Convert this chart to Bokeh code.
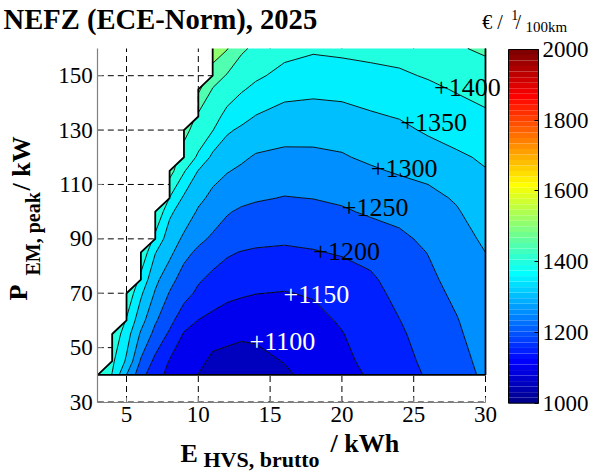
import numpy as np
from bokeh.plotting import figure
from bokeh.plotting.contour import contour_data
from bokeh.models import Label, Range1d, FixedTicker, LinearAxis
from bokeh.embed import file_html
from bokeh.resources import INLINE

N = None

# Grid: gross battery energy (kWh) and peak e-machine power (kW)
e_hvs = [3, 4, 5, 6, 7, 8, 9, 10, 11, 12, 13, 14, 16, 18, 20, 22, 24, 26, 28, 30]
p_em = [40, 45, 55, 60, 70, 75, 85, 90, 100, 105, 115, 120, 130, 135, 145, 150, 160]

# Cost in EUR per 1/100km, one list per battery size (rows follow p_em);
# None where the power exceeds what the battery can deliver
cost_e03 = [1445, N, N, N, N, N, N, N, N, N, N, N, N, N, N, N, N]
cost_e04 = [1398, 1410, 1440, N, N, N, N, N, N, N, N, N, N, N, N, N, N]
cost_e05 = [1300, 1342, 1372, 1395, 1440, N, N, N, N, N, N, N, N, N, N, N, N]
cost_e06 = [1217, 1244, 1293, 1319, 1358, 1385, 1440, N, N, N, N, N, N, N, N, N, N]
cost_e07 = [1167, 1188, 1235, 1256, 1295, 1313, 1352, 1385, 1450, N, N, N, N, N, N, N, N]
cost_e08 = [1138, 1147, 1192, 1215, 1247, 1267, 1313, 1325, 1360, 1398, 1470, N, N, N, N, N, N]
cost_e09 = [1118, 1128, 1146, 1170, 1218, 1228, 1265, 1292, 1325, 1342, 1405, 1422, 1470, N, N, N, N]
cost_e10 = [1099, 1110, 1132, 1149, 1190, 1206, 1240, 1262, 1295, 1310, 1348, 1395, 1420, 1440, 1510, N, N]
cost_e11 = [1090, 1092, 1114, 1135, 1178, 1188, 1222, 1242, 1276, 1290, 1315, 1338, 1402, 1420, 1447, 1475, 1530]
cost_e12 = [1082, 1088, 1110, 1125, 1163, 1180, 1205, 1228, 1254, 1270, 1303, 1320, 1357, 1385, 1426, 1446, 1503]
cost_e13 = [1078, 1084, 1106, 1120, 1156, 1172, 1198, 1218, 1243, 1262, 1292, 1308, 1342, 1365, 1405, 1423, 1458]
cost_e14 = [1078, 1086, 1108, 1120, 1151, 1165, 1194, 1212, 1238, 1255, 1282, 1295, 1330, 1348, 1389, 1408, 1440]
cost_e16 = [1092, 1102, 1120, 1126, 1148, 1162, 1192, 1207, 1233, 1248, 1275, 1290, 1316, 1333, 1365, 1386, 1415]
cost_e18 = [1116, 1121, 1130, 1137, 1154, 1165, 1197, 1210, 1236, 1251, 1275, 1291, 1315, 1328, 1362, 1378, 1406]
cost_e20 = [1135, 1140, 1148, 1155, 1170, 1178, 1204, 1218, 1244, 1258, 1283, 1296, 1318, 1331, 1366, 1381, 1410]
cost_e22 = [1155, 1161, 1172, 1178, 1186, 1193, 1214, 1224, 1257, 1264, 1294, 1308, 1328, 1344, 1373, 1389, 1412]
cost_e24 = [1180, 1185, 1193, 1199, 1212, 1219, 1234, 1242, 1262, 1274, 1305, 1316, 1338, 1353, 1381, 1393, 1418]
cost_e26 = [1205, 1210, 1220, 1225, 1237, 1242, 1251, 1258, 1276, 1287, 1313, 1325, 1357, 1370, 1390, 1404, 1432]
cost_e28 = [1232, 1236, 1244, 1248, 1258, 1263, 1275, 1281, 1296, 1305, 1330, 1343, 1368, 1378, 1404, 1418, 1445]
cost_e30 = [1258, 1262, 1270, 1274, 1285, 1289, 1300, 1308, 1325, 1333, 1348, 1356, 1372, 1392, 1417, 1430, 1458]

levels = [1050, 1100, 1150, 1200, 1250, 1300, 1350, 1400, 1450, 1500, 1550]

# Inline contour labels: level and the point on its line where it sits
label_levels = [1100, 1150, 1200, 1250, 1300, 1350, 1400]
label_e = [14.05, 16.42, 18.5, 20.48, 22.5, 24.55, 26.9]
label_p = [52.2, 69.5, 85.4, 101.6, 115.7, 132.9, 145.7]

e_ticks = [5, 10, 15, 20, 25, 30]
p_ticks = [30, 50, 70, 90, 110, 130, 150]
colorbar_ticks = [1000, 1200, 1400, 1600, 1800, 2000]
e_lim = (3, 30)
p_lim = (30, 160)
c_low, c_high = 1000, 2000

columns = [cost_e03, cost_e04, cost_e05, cost_e06, cost_e07, cost_e08, cost_e09,
           cost_e10, cost_e11, cost_e12, cost_e13, cost_e14, cost_e16, cost_e18,
           cost_e20, cost_e22, cost_e24, cost_e26, cost_e28, cost_e30]
z = np.array(columns, dtype=float).T  # shape (len(p_em), len(e_hvs))


def jet(m=64):
    """MATLAB-style jet colormap as a list of hex colours."""
    n = int(np.ceil(m / 4))
    u = np.concatenate([np.arange(1, n + 1) / n, np.ones(n - 1), np.arange(n, 0, -1) / n])
    g = int(np.ceil(n / 2)) - (1 if m % 4 == 1 else 0) + np.arange(1, len(u) + 1)
    cmap = np.zeros((m, 3))
    for idx, ch in ((g + n, 0), (g, 1), (g - n, 2)):
        ok = (idx >= 1) & (idx <= m)
        cmap[idx[ok] - 1, ch] = u[ok]
    return ["#%02x%02x%02x" % tuple(int(round(v * 255)) for v in c) for c in cmap]


JET = jet(64)


def jet_color(v):
    i = int(np.floor((v - c_low) / (c_high - c_low) * len(JET)))
    return JET[min(max(i, 0), len(JET) - 1)]


band_colors = [jet_color(v) for v in levels[:-1]]

# Page layout in pixels (from the top-left corner of the page)
W, H = 590, 473
PLOT_L, PLOT_R, PLOT_T, PLOT_B = 97.3, 485.0, 48.0, 401.5
CB_L, CB_R, CB_T, CB_B = 508.0, 538.0, 49.0, 402.7


def h_range(lo, hi, px_lo, px_hi):
    s = (px_hi - px_lo) / (hi - lo)
    return Range1d(lo - px_lo / s, hi + (W - px_hi) / s)


def v_range(lo, hi, py_lo, py_hi):
    s = (py_lo - py_hi) / (hi - lo)
    return Range1d(lo - (H - py_lo) / s, hi + py_hi / s)


SERIF = "Liberation Serif"

p = figure(width=W, height=H, x_range=h_range(*e_lim, PLOT_L, PLOT_R),
           y_range=v_range(*p_lim, PLOT_B, PLOT_T),
           output_backend="svg", toolbar_location=None,
           x_axis_location=None, y_axis_location=None, min_border=0)
p.outline_line_color = None
p.background_fill_color = "white"
p.border_fill_color = "white"
p.grid.visible = False
p.extra_x_ranges = {"cb_x": h_range(0, 1, CB_L, CB_R)}
p.extra_y_ranges = {"cb_y": v_range(c_low, c_high, CB_B, CB_T)}

# Dashed grid, drawn beneath the filled contours
p.segment(x0=e_ticks, y0=p_lim[0], x1=e_ticks, y1=p_lim[1],
          line_color="black", line_width=1, line_dash="6 4")
p.segment(x0=e_lim[0], y0=p_ticks, x1=e_lim[1], y1=p_ticks,
          line_color="black", line_width=1, line_dash="6 4")

# Filled contours with black level lines
cr = p.contour(x=e_hvs, y=p_em, z=z, levels=levels, fill_color=band_colors,
               line_color="black", line_width=0.9)

# Edge of the computed region (all sides except the upper power limit)
dom = contour_data(e_hvs, p_em, z, levels=[np.nanmin(z) - 1, np.nanmax(z) + 1],
                   want_line=False)


def rings(obj):
    if isinstance(obj, np.ndarray) and obj.ndim == 1 and obj.dtype.kind == "f":
        yield obj
    else:
        for o in obj:
            yield from rings(o)


edge_xs, edge_ys = [], []
for rx, ry in zip(rings(dom.fill_data.xs), rings(dom.fill_data.ys)):
    rx, ry = list(rx), list(ry)
    if rx[0] != rx[-1] or ry[0] != ry[-1]:
        rx.append(rx[0])
        ry.append(ry[0])
    cur_x, cur_y = [], []
    for i in range(len(rx) - 1):
        on_top = np.isclose(ry[i], p_em[-1]) and np.isclose(ry[i + 1], p_em[-1])
        if on_top:
            if len(cur_x) > 1:
                edge_xs.append(cur_x)
                edge_ys.append(cur_y)
            cur_x, cur_y = [], []
            continue
        if not cur_x:
            cur_x, cur_y = [rx[i]], [ry[i]]
        cur_x.append(rx[i + 1])
        cur_y.append(ry[i + 1])
    if len(cur_x) > 1:
        edge_xs.append(cur_x)
        edge_ys.append(cur_y)
p.multi_line(xs=edge_xs, ys=edge_ys, line_color="black", line_width=1.8)

# Axes
xa = LinearAxis(fixed_location=p_lim[0], bounds=e_lim, ticker=FixedTicker(ticks=e_ticks))
ya = LinearAxis(fixed_location=e_lim[0], bounds=p_lim, ticker=FixedTicker(ticks=p_ticks))
for ax, standoff in ((xa, 5), (ya, 5)):
    ax.minor_tick_line_color = None
    ax.major_tick_in = 5
    ax.major_tick_out = 0
    ax.major_tick_line_color = "#808080"
    ax.axis_line_color = "#808080"
    ax.axis_line_width = 1.2
    ax.major_label_text_font = SERIF
    ax.major_label_text_font_size = "23px"
    ax.major_label_text_color = "black"
    ax.major_label_standoff = standoff
p.add_layout(xa, "below")
p.add_layout(ya, "left")

# Contour labels
for lev, e, pw in zip(label_levels, label_e, label_p):
    p.add_layout(Label(x=e, y=pw, text="+" + str(lev), text_font=SERIF,
                       text_font_size="26px", text_align="left", text_baseline="middle",
                       x_offset=-7, text_color="white" if lev < 1200 else "black"))

# Colour bar
edges = np.linspace(c_low, c_high, len(JET) + 1)
p.quad(left=0, right=1, bottom=edges[:-1], top=edges[1:], fill_color=JET, line_color=None,
       x_range_name="cb_x", y_range_name="cb_y")
p.quad(left=0, right=1, bottom=c_low, top=c_high, fill_color=None, line_color="black",
       line_width=1, x_range_name="cb_x", y_range_name="cb_y")
ca = LinearAxis(x_range_name="cb_x", y_range_name="cb_y", fixed_location=1,
                bounds=(c_low, c_high), ticker=FixedTicker(ticks=colorbar_ticks))
ca.minor_tick_line_color = None
ca.major_tick_in = 4
ca.major_tick_out = 0
ca.major_tick_line_color = "black"
ca.axis_line_color = None
ca.major_label_text_font = SERIF
ca.major_label_text_font_size = "23px"
ca.major_label_text_color = "black"
ca.major_label_standoff = 4
p.add_layout(ca, "right")

MID = 0.3375  # distance from the em-box middle to the baseline, in em


def page_text(x, y, text, size, bold=False, angle=0):
    """Text placed by page pixel: x from the left, y = baseline from the top.
    For upright-reading (rotated) text, x is the baseline and y the start."""
    off = MID * size
    if angle:
        sx, sy = x - off, H - y
    else:
        sx, sy = x, H - (y - off)
    p.add_layout(Label(x=sx, y=sy, x_units="screen", y_units="screen", text=text,
                       text_font=SERIF, text_font_size="%gpx" % size,
                       text_font_style="bold" if bold else "normal",
                       text_align="left", text_baseline="middle",
                       angle=angle, angle_units="deg", text_color="black"))


page_text(3, 29, "NEFZ (ECE-Norm), 2025", 28.6, bold=True)
# x-axis title: E with subscript, unit raised
page_text(180, 462, "E", 26, bold=True)
page_text(203, 466.5, "HVS, brutto", 22, bold=True)
page_text(330, 452, "/ kWh", 26, bold=True)
# y-axis title, reading upwards
page_text(26.7, 300, "P", 26, bold=True, angle=90)
page_text(39.5, 275, "EM, peak", 20, bold=True, angle=90)
page_text(30, 190, "/ kW", 26, bold=True, angle=90)
# colour-bar unit
page_text(481.7, 28, "\u20ac /", 20)
page_text(510.7, 19, "1", 14)
page_text(515, 28, "/", 20)
page_text(525, 31.5, "100km", 15)

open("out.html", "w").write(file_html(p, INLINE))
